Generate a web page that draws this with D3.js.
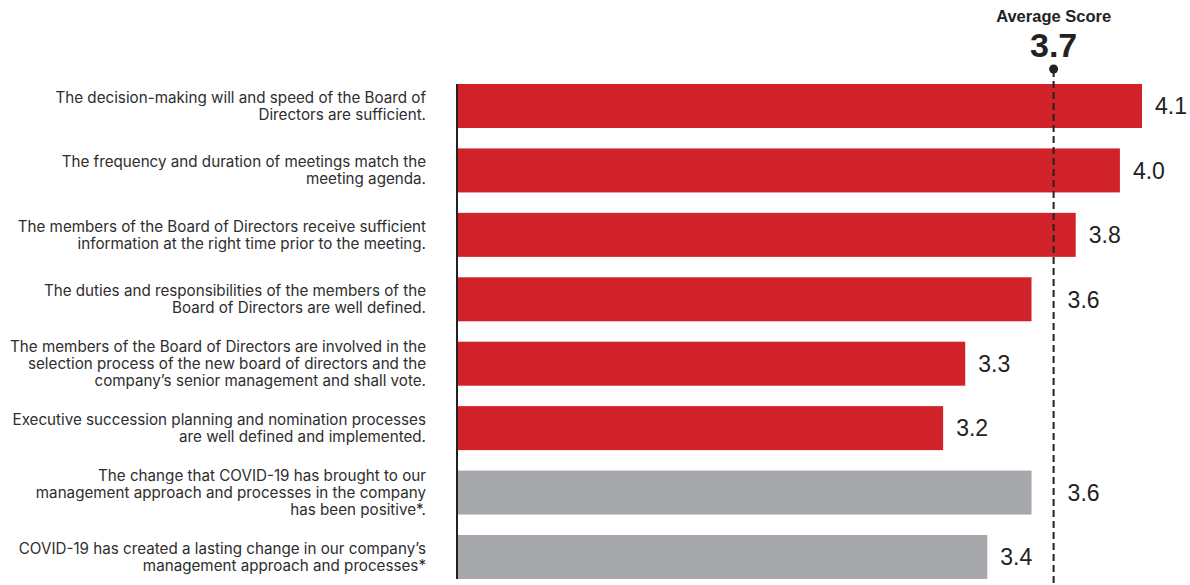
<!DOCTYPE html>
<html>
<head>
<meta charset="utf-8">
<script src="https://cdn.jsdelivr.net/npm/d3@7/dist/d3.min.js"></script>
<style>
  html, body { margin: 0; padding: 0; background: #fff; }
  svg { display: block; }
</style>
</head>
<body>
<svg id="chart" width="1190" height="585"></svg>
<script>
// Board evaluation survey statements (each wrapped into its display lines)
const categories = [
  ["The decision-making will and speed of the Board of", "Directors are sufficient."],
  ["The frequency and duration of meetings match the", "meeting agenda."],
  ["The members of the Board of Directors receive sufficient", "information at the right time prior to the meeting."],
  ["The duties and responsibilities of the members of the", "Board of Directors are well defined."],
  ["The members of the Board of Directors are involved in the", "selection process of the new board of directors and the", "company’s senior management and shall vote."],
  ["Executive succession planning and nomination processes", "are well defined and implemented."],
  ["The change that COVID-19 has brought to our", "management approach and processes in the company", "has been positive*."],
  ["COVID-19 has created a lasting change in our company’s", "management approach and processes*"]
];
const scores = [4.1, 4.0, 3.8, 3.6, 3.3, 3.2, 3.6, 3.4];
const groups = ["board", "board", "board", "board", "board", "board", "covid", "covid"];
const averageScore = 3.7;

const colors = { board: "#d12229", covid: "#a7a8ab" };

const svg = d3.select("#chart");
const plot = { left: 457, right: 1142, top: 84, bottom: 579 };

// Scores are on a 1–5 scale, so bars grow from 1
const x = d3.scaleLinear().domain([1, 4.1]).range([plot.left, plot.right]);
const y = d3.scaleBand()
  .domain(d3.range(scores.length))
  .range([plot.top, plot.bottom])
  .paddingInner(0.317)
  .paddingOuter(0);

const ax = x(averageScore);

// Bars
svg.append("g").selectAll("rect")
  .data(scores)
  .join("rect")
  .attr("x", x(1))
  .attr("y", (d, i) => y(i))
  .attr("width", d => x(d) - x(1))
  .attr("height", y.bandwidth())
  .attr("fill", (d, i) => colors[groups[i]]);

// Value labels; a label that would sit on the average line is moved past it
const labelW = 34;
svg.append("g").selectAll("text")
  .data(scores)
  .join("text")
  .attr("x", d => {
    const lx = x(d) + 13;
    return (lx < ax + 6 && lx + labelW > ax - 4) ? ax + 14 : lx;
  })
  .attr("y", (d, i) => y(i) + y.bandwidth() / 2)
  .attr("dy", "0.36em")
  .attr("font-family", "Liberation Sans, Arial, sans-serif")
  .attr("font-size", 23)
  .attr("fill", "#222")
  .text(d => d3.format(".1f")(d));

// Category axis line
svg.append("line")
  .attr("x1", plot.left).attr("x2", plot.left)
  .attr("y1", plot.top).attr("y2", plot.bottom)
  .attr("stroke", "#222")
  .attr("stroke-width", 2);

// Statement labels, right aligned and centred on their bar
const lineH = 17;
const labels = svg.append("g")
  .attr("font-family", "Inter, 'Noto Sans', sans-serif")
  .attr("font-size", 15.2)
  .attr("fill", "#2e2e2e")
  .attr("text-anchor", "end");
categories.forEach((lines, i) => {
  const cy = y(i) + y.bandwidth() / 2;
  const t = labels.append("text").attr("x", 426);
  lines.forEach((line, j) => {
    t.append("tspan")
      .attr("x", 426)
      .attr("y", cy + (j - (lines.length - 1) / 2) * lineH)
      .attr("dy", "0.35em")
      .text(line);
  });
});

// Average marker
svg.append("line")
  .attr("x1", ax).attr("x2", ax)
  .attr("y1", 70).attr("y2", 585)
  .attr("stroke", "#222")
  .attr("stroke-width", 2)
  .attr("stroke-dasharray", "7,4");
svg.append("circle")
  .attr("cx", ax).attr("cy", 69).attr("r", 4.5)
  .attr("fill", "#222");
svg.append("text")
  .attr("x", ax).attr("y", 22)
  .attr("text-anchor", "middle")
  .attr("font-family", "Liberation Sans, Arial, sans-serif")
  .attr("font-weight", "bold")
  .attr("font-size", 16.5)
  .attr("fill", "#222")
  .text("Average Score");
svg.append("text")
  .attr("x", ax).attr("y", 57)
  .attr("text-anchor", "middle")
  .attr("font-family", "Liberation Sans, Arial, sans-serif")
  .attr("font-weight", "bold")
  .attr("font-size", 34)
  .attr("fill", "#222")
  .text(d3.format(".1f")(averageScore));
</script>
</body>
</html>
